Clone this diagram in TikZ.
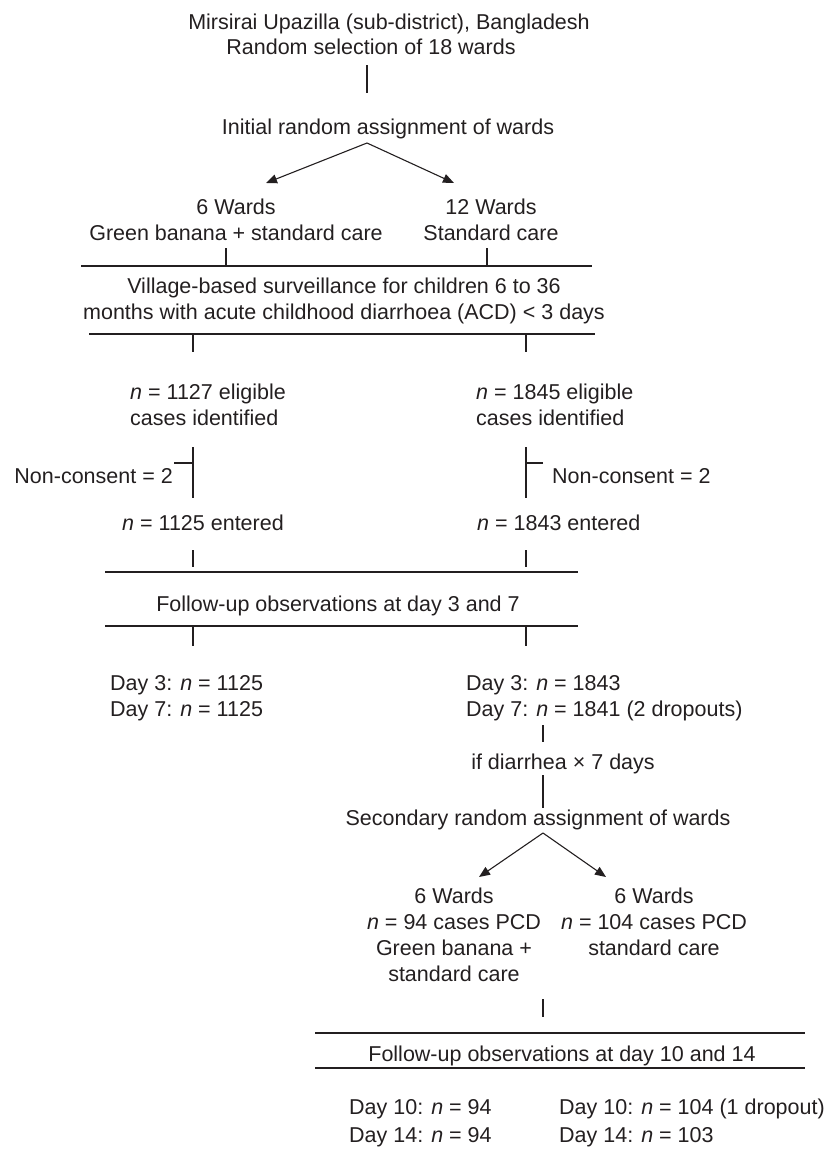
\documentclass[tikz,border=0pt]{standalone}
\usepackage{fontspec}
\setmainfont{Liberation Sans}
\usetikzlibrary{arrows.meta}
\definecolor{ink}{HTML}{231F20}
\newcommand{\nn}{\textit{n}}
\begin{document}
\begin{tikzpicture}[x=1pt,y=-1pt,
  txt/.style={font=\fontsize{21.5}{26}\selectfont, inner sep=0pt, text=ink, align=center, anchor=base},
  txtl/.style={txt, align=left, anchor=base west},
  ln/.style={draw=ink, line width=1.1pt},
  arr/.style={ln, -{Triangle[length=11pt,width=9pt]}}]
\useasboundingbox (0,0) rectangle (824,1149);

% top (anchor base = baseline of the LAST line of a node)
\node[txt] (top1) at (389,29) {Mirsirai Upazilla (sub-district), Bangladesh};
\node[txt] (top2) at (371,54) {Random selection of 18 wards};
\coordinate (v1a) at (367,65); \coordinate (v1b) at (367,93);
\draw[ln] (v1a) -- (v1b);
\node[txt] (init) at (388,134) {Initial random assignment of wards};
\coordinate (apex1) at (367,143);
\coordinate (tipL1) at (266,183); \coordinate (tipR1) at (454,183);
\draw[arr] (apex1) -- (tipL1);
\draw[arr] (apex1) -- (tipR1);
\node[txt] (wardsA) at (236,240) {6 Wards\\Green banana + standard care};
\node[txt] (wardsB) at (491,240) {12 Wards\\Standard care};
\coordinate (tA1) at (226,248); \coordinate (tA2) at (226,266);
\coordinate (tB1) at (487,248); \coordinate (tB2) at (487,266);
\draw[ln] (tA1) -- (tA2);
\draw[ln] (tB1) -- (tB2);
\coordinate (bar1l) at (81,266); \coordinate (bar1r) at (592,266);
\draw[ln] (bar1l) -- (bar1r);
\node[txt] (surv) at (344,319) {Village-based surveillance for children 6 to 36\\months with acute childhood diarrhoea (ACD) < 3 days};
\coordinate (bar2l) at (89,334); \coordinate (bar2r) at (595,334);
\draw[ln] (bar2l) -- (bar2r);
\coordinate (lA) at (193,334); \coordinate (lB) at (526,334);
\draw[ln] (lA) -- ++(0,18);
\draw[ln] (lB) -- ++(0,18);

\node[txtl] (eligA) at (130,425) {\nn{} = 1127 eligible\\cases identified};
\node[txtl] (eligB) at (476,425) {\nn{} = 1845 eligible\\cases identified};

\coordinate (ncA1) at (193,447); \coordinate (ncA2) at (193,498); \coordinate (ncAt) at (174,463);
\draw[ln] (ncA1) -- (ncA2);
\draw[ln] (ncAt) -- (ncAt -| ncA1);
\node[txt, anchor=base east] (ncA) at (173,483) {Non-consent = 2};
\coordinate (ncB1) at (526,447); \coordinate (ncB2) at (526,498); \coordinate (ncBt) at (543,463);
\draw[ln] (ncB1) -- (ncB2);
\draw[ln] (ncBt) -- (ncBt -| ncB1);
\node[txt, anchor=base west] (ncB) at (552,483) {Non-consent = 2};

\node[txtl] (entA) at (122,530) {\nn{} = 1125 entered};
\node[txtl] (entB) at (477,530) {\nn{} = 1843 entered};
\coordinate (eA1) at (193,550); \coordinate (eA2) at (193,567);
\coordinate (eB1) at (526,550); \coordinate (eB2) at (526,567);
\draw[ln] (eA1) -- (eA2);
\draw[ln] (eB1) -- (eB2);
\coordinate (bar3l) at (105,572); \coordinate (bar3r) at (578,572);
\draw[ln] (bar3l) -- (bar3r);
\node[txt] (fu1) at (338,611) {Follow-up observations at day 3 and 7};
\coordinate (bar4l) at (105,626); \coordinate (bar4r) at (578,626);
\draw[ln] (bar4l) -- (bar4r);
\coordinate (fA) at (193,627); \coordinate (fB) at (526,627);
\draw[ln] (fA) -- ++(0,19);
\draw[ln] (fB) -- ++(0,19);

\node[txtl] (dayA) at (110,716) {Day 3: \nn{} = 1125\\Day 7: \nn{} = 1125};
\node[txtl] (dayB) at (466,716) {Day 3: \nn{} = 1843\\Day 7: \nn{} = 1841 (2 dropouts)};
\coordinate (d1) at (543,725); \coordinate (d2) at (543,742);
\draw[ln] (d1) -- (d2);
\node[txt] (ifd) at (563,769) {if diarrhea × 7 days};
\coordinate (d3) at (543,775); \coordinate (d4) at (543,808);
\draw[ln] (d3) -- (d4);
\node[txt] (sec) at (538,825) {Secondary random assignment of wards};
\coordinate (apex2) at (543,833);
\coordinate (tipL2) at (479,877); \coordinate (tipR2) at (606,877);
\draw[arr] (apex2) -- (tipL2);
\draw[arr] (apex2) -- (tipR2);

\node[txt] (gbA) at (454,981) {6 Wards\\\nn{} = 94 cases PCD\\Green banana +\\standard care};
\node[txt] (gbB) at (654,955) {6 Wards\\\nn{} = 104 cases PCD\\standard care};
\coordinate (g1) at (543,999); \coordinate (g2) at (543,1017);
\draw[ln] (g1) -- (g2);
\coordinate (bar5l) at (315,1033); \coordinate (bar5r) at (805,1033);
\draw[ln] (bar5l) -- (bar5r);
\node[txt] (fu2) at (562,1061) {Follow-up observations at day 10 and 14};
\coordinate (bar6l) at (315,1068); \coordinate (bar6r) at (805,1068);
\draw[ln] (bar6l) -- (bar6r);

\node[txtl, font=\fontsize{21.5}{28}\selectfont] (finA) at (349,1142) {Day 10: \nn{} = 94\\Day 14: \nn{} = 94};
\node[txtl, font=\fontsize{21.5}{28}\selectfont] (finB) at (559,1142) {Day 10: \nn{} = 104 (1 dropout)\\Day 14: \nn{} = 103};
\end{tikzpicture}
\end{document}
